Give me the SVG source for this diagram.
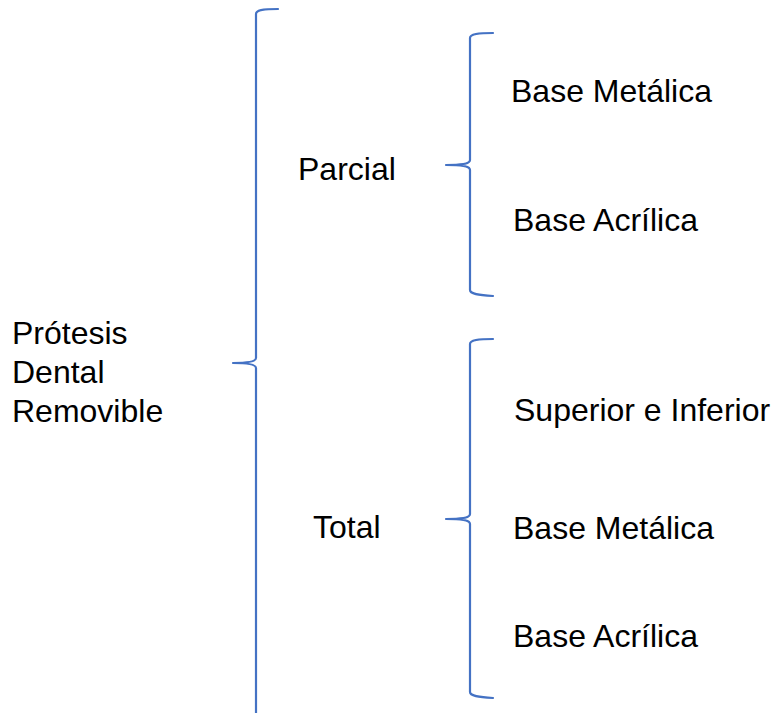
<svg xmlns="http://www.w3.org/2000/svg" width="771" height="713" viewBox="0 0 771 713">
  <style>
    .lbl { font-family: "Liberation Sans", Arial, sans-serif; font-size: 32px; fill: #000; }
    .brace { fill: none; stroke: #4472C4; stroke-width: 2.2; stroke-linejoin: round; stroke-linecap: round; }
  </style>
  <rect width="771" height="713" fill="#fff"/>

  <!-- connectors: curly braces -->
  <g id="connectors">
    <path class="brace" d="M278,9 C262,9 256,10 256,14 L256,358 C256,361 250,363 233,363 C250,363 256,365 256,368 L256,716"/>
    <path class="brace" d="M493,33 C478,33 470,34 470,38 L470,160 C470,163 465,165 446,165 C465,165 470,167 470,170 L470,290 C470,294 478,295 493,296"/>
    <path class="brace" d="M493,339 C478,339 470,340 470,344 L470,514 C470,517 465,519 446,519 C465,519 470,521 470,524 L470,692 C470,696 478,697 493,698"/>
  </g>

  <g id="root">
    <text class="lbl" x="12" y="344">Prótesis</text>
    <text class="lbl" x="12" y="383">Dental</text>
    <text class="lbl" x="12" y="422">Removible</text>
  </g>

  <g id="parcial">
    <text class="lbl" x="298" y="180">Parcial</text>
  </g>
  <g id="parcial-metalica">
    <text class="lbl" x="511" y="102">Base Metálica</text>
  </g>
  <g id="parcial-acrilica">
    <text class="lbl" x="513" y="231">Base Acrílica</text>
  </g>

  <g id="total">
    <text class="lbl" x="313" y="538">Total</text>
  </g>
  <g id="total-superior">
    <text class="lbl" x="514" y="421">Superior e Inferior</text>
  </g>
  <g id="total-metalica">
    <text class="lbl" x="513" y="539">Base Metálica</text>
  </g>
  <g id="total-acrilica">
    <text class="lbl" x="513" y="647">Base Acrílica</text>
  </g>
</svg>
